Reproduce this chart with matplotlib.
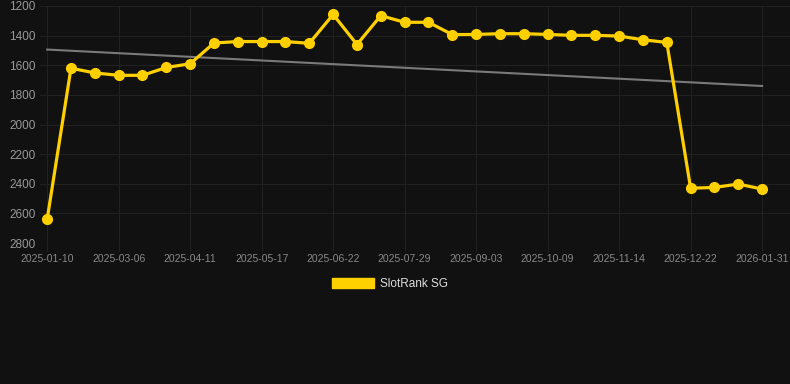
import matplotlib
matplotlib.use("Agg")
import matplotlib.pyplot as plt
from matplotlib.patches import Patch

plt.rcParams["font.family"] = ["Liberation Sans", "DejaVu Sans"]

# rank values, one point per sample (x axis is categorical)
ranks = [2640, 1620, 1652, 1668, 1668, 1615, 1590, 1450, 1440, 1440,
         1440, 1452, 1257, 1460, 1265, 1310, 1310, 1393, 1392, 1387,
         1387, 1392, 1398, 1398, 1403, 1428, 1446, 2430, 2425, 2402,
         2436]
tick_labels = ["2025-01-10", "2025-03-06", "2025-04-11", "2025-05-17",
               "2025-06-22", "2025-07-29", "2025-09-03", "2025-10-09",
               "2025-11-14", "2025-12-22", "2026-01-31"]
tick_every = 3
trend_start, trend_end = 1494, 1740
series_name = "SlotRank SG"

bg = "#111111"
yellow = "#FFD000"

fig = plt.figure(figsize=(7.9, 3.84), dpi=100, facecolor=bg)
ax = fig.add_axes([40 / 790, 1 - 243 / 384, 750 / 790, 237 / 384])
ax.set_facecolor(bg)

x = list(range(len(ranks)))
ax.plot([x[0], x[-1]], [trend_start, trend_end], color="#7a7a7a", linewidth=1.5, zorder=2)
ax.plot(x, ranks, color=yellow, linewidth=2.3, marker="o", markersize=7, zorder=3)

ax.set_ylim(2800, 1200)
ax.set_yticks(range(1200, 2801, 200))
ax.set_xlim(-0.3, len(ranks) - 1 + 1.17)
ax.set_xticks(x[::tick_every])
ax.set_xticklabels(tick_labels)

ax.grid(True, color="#212121", linewidth=0.8)
ax.set_axisbelow(True)
for s in ax.spines.values():
    s.set_visible(False)
ax.tick_params(axis="x", colors="#212121", labelcolor="#888888", labelsize=7.5, length=6, pad=2)
ax.tick_params(axis="y", length=0, labelcolor="#999999", labelsize=8.5, pad=3)

fig.legend(handles=[Patch(facecolor=yellow, edgecolor=yellow)], labels=[series_name],
           loc="center", bbox_to_anchor=(390 / 790, 1 - 284 / 384), frameon=False,
           fontsize=8.5, labelcolor="#dddddd", handlelength=3.6, handleheight=0.9,
           handletextpad=0.5)

fig.savefig("out.png", dpi=100, facecolor=bg)
